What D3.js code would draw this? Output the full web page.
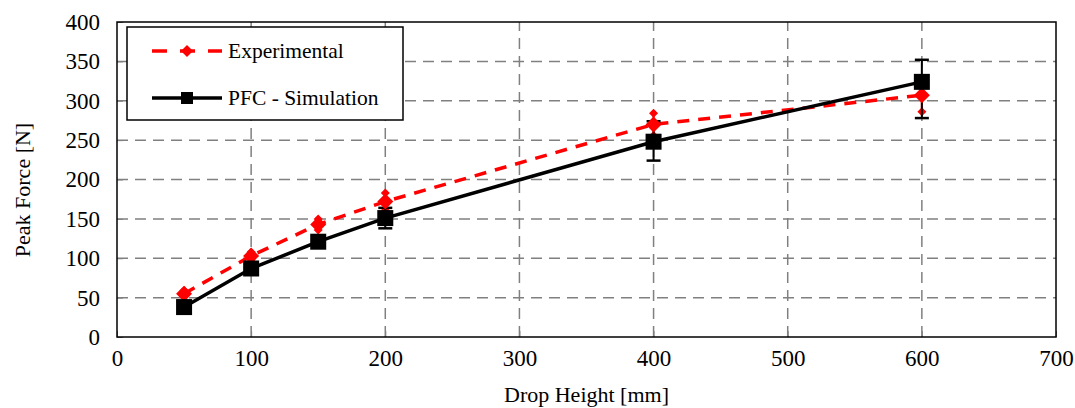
<!DOCTYPE html>
<html>
<head>
<meta charset="utf-8">
<script src="https://cdn.jsdelivr.net/npm/d3@7"></script>
<style>
  body { margin: 0; background: #fff; }
</style>
</head>
<body>
<svg id="chart" width="1075" height="408"></svg>
<script>
const dropHeights = [50, 100, 150, 200, 400, 600];
const expForce = [55, 103, 143, 172, 270, 307];
const expErr = [4, 5, 7, 11, 14, 21];
const simForce = [38, 87, 121, 151, 248, 324];
const simErrLow = [3, 4, 5, 13, 24, 46];
const simErrHigh = [3, 4, 5, 13, 26, 28];
const xTicks = [0, 100, 200, 300, 400, 500, 600, 700];
const yTicks = [0, 50, 100, 150, 200, 250, 300, 350, 400];

const FONT = "'Liberation Serif', 'Times New Roman', serif";
const plot = { left: 117, right: 1056, top: 22, bottom: 337 };

const svg = d3.select("#chart");

const x = d3.scaleLinear().domain([0, 700]).range([plot.left, plot.right]);
const y = d3.scaleLinear().domain([0, 400]).range([plot.bottom, plot.top]);

// grid
svg.append("g").selectAll("line")
  .data(yTicks.slice(1, -1))
  .enter().append("line")
  .attr("x1", plot.left).attr("x2", plot.right)
  .attr("y1", d => y(d)).attr("y2", d => y(d))
  .attr("stroke", "#808080").attr("stroke-width", 1.5)
  .attr("stroke-dasharray", "11,7");

svg.append("g").selectAll("line")
  .data(xTicks.slice(1, -1))
  .enter().append("line")
  .attr("x1", d => x(d)).attr("x2", d => x(d))
  .attr("y1", plot.bottom).attr("y2", plot.top)
  .attr("stroke", "#808080").attr("stroke-width", 1.5)
  .attr("stroke-dasharray", "11,7");

// axes
const xAxis = svg.append("g")
  .attr("transform", `translate(0,${plot.bottom})`)
  .call(d3.axisBottom(x).tickValues(xTicks).tickSize(-6).tickPadding(13));
const yAxis = svg.append("g")
  .attr("transform", `translate(${plot.left},0)`)
  .call(d3.axisLeft(y).tickValues(yTicks).tickSize(-6).tickPadding(17));

[xAxis, yAxis].forEach(function (g) {
  g.attr("font-family", null).attr("font-size", null);
  g.select(".domain").remove();
  g.selectAll(".tick line").attr("stroke", "#808080").attr("stroke-width", 1);
  g.selectAll(".tick text")
    .attr("fill", "#000")
    .style("font-family", FONT)
    .style("font-size", "23px");
});

svg.append("rect")
  .attr("x", plot.left).attr("y", plot.top)
  .attr("width", plot.right - plot.left).attr("height", plot.bottom - plot.top)
  .attr("fill", "none").attr("stroke", "#000").attr("stroke-width", 1.5);

// axis titles
svg.append("text")
  .attr("x", (plot.left + plot.right) / 2).attr("y", 402)
  .attr("text-anchor", "middle")
  .style("font-family", FONT).style("font-size", "22px")
  .text("Drop Height [mm]");
svg.append("text")
  .attr("transform", "rotate(-90)")
  .attr("x", -190).attr("y", 30)
  .attr("text-anchor", "middle")
  .style("font-family", FONT).style("font-size", "22px")
  .text("Peak Force [N]");

const line = d3.line()
  .x(d => x(d[0]))
  .y(d => y(d[1]));

const expPts = dropHeights.map((h, i) => [h, expForce[i], expErr[i], expErr[i]]);
const simPts = dropHeights.map((h, i) => [h, simForce[i], simErrLow[i], simErrHigh[i]]);

function diamond(cx, cy, r) {
  return `M${cx},${cy - r}L${cx + r},${cy}L${cx},${cy + r}L${cx - r},${cy}Z`;
}

// experimental series
svg.append("path")
  .datum(expPts)
  .attr("d", line)
  .attr("fill", "none").attr("stroke", "#ff0000")
  .attr("stroke-width", 3.5).attr("stroke-dasharray", "12,9");

const expErrG = svg.append("g").selectAll("g").data(expPts).enter().append("g");
expErrG.append("line")
  .attr("x1", d => x(d[0])).attr("x2", d => x(d[0]))
  .attr("y1", d => y(d[1] - d[2])).attr("y2", d => y(d[1] + d[3]))
  .attr("stroke", "#ff0000").attr("stroke-width", 2);
expErrG.selectAll("path.cap")
  .data(d => [[d[0], d[1] - d[2]], [d[0], d[1] + d[3]]])
  .enter().append("path")
  .attr("d", d => diamond(x(d[0]), y(d[1]), 4.5))
  .attr("fill", "#ff0000");

// simulation series
svg.append("path")
  .datum(simPts)
  .attr("d", line)
  .attr("fill", "none").attr("stroke", "#000")
  .attr("stroke-width", 3.5);

const simErrG = svg.append("g").selectAll("g").data(simPts).enter().append("g");
simErrG.append("line")
  .attr("x1", d => x(d[0])).attr("x2", d => x(d[0]))
  .attr("y1", d => y(d[1] - d[2])).attr("y2", d => y(d[1] + d[3]))
  .attr("stroke", "#000").attr("stroke-width", 2);
simErrG.selectAll("line.cap")
  .data(d => [[d[0], d[1] - d[2]], [d[0], d[1] + d[3]]])
  .enter().append("line")
  .attr("x1", d => x(d[0]) - 7).attr("x2", d => x(d[0]) + 7)
  .attr("y1", d => y(d[1])).attr("y2", d => y(d[1]))
  .attr("stroke", "#000").attr("stroke-width", 2.5);

svg.append("g").selectAll("path")
  .data(expPts).enter().append("path")
  .attr("d", d => diamond(x(d[0]), y(d[1]), 8))
  .attr("fill", "#ff0000");

svg.append("g").selectAll("rect")
  .data(simPts).enter().append("rect")
  .attr("x", d => x(d[0]) - 8).attr("y", d => y(d[1]) - 8)
  .attr("width", 16).attr("height", 16)
  .attr("fill", "#000");

// legend
const legend = svg.append("g");
legend.append("rect")
  .attr("x", 127).attr("y", 27).attr("width", 276).attr("height", 93)
  .attr("fill", "#fff").attr("stroke", "#000").attr("stroke-width", 1.5);
legend.append("line")
  .attr("x1", 152).attr("x2", 222).attr("y1", 51).attr("y2", 51)
  .attr("stroke", "#ff0000").attr("stroke-width", 3.5).attr("stroke-dasharray", "15,13");
legend.append("path").attr("d", diamond(187, 51, 6)).attr("fill", "#ff0000");
legend.append("text").attr("x", 228).attr("y", 58)
  .style("font-family", FONT).style("font-size", "21.5px").text("Experimental");
legend.append("line")
  .attr("x1", 152).attr("x2", 222).attr("y1", 98).attr("y2", 98)
  .attr("stroke", "#000").attr("stroke-width", 3.5);
legend.append("rect").attr("x", 181).attr("y", 92).attr("width", 12).attr("height", 12).attr("fill", "#000");
legend.append("text").attr("x", 228).attr("y", 105)
  .style("font-family", FONT).style("font-size", "21.5px").text("PFC - Simulation");
</script>
</body>
</html>
